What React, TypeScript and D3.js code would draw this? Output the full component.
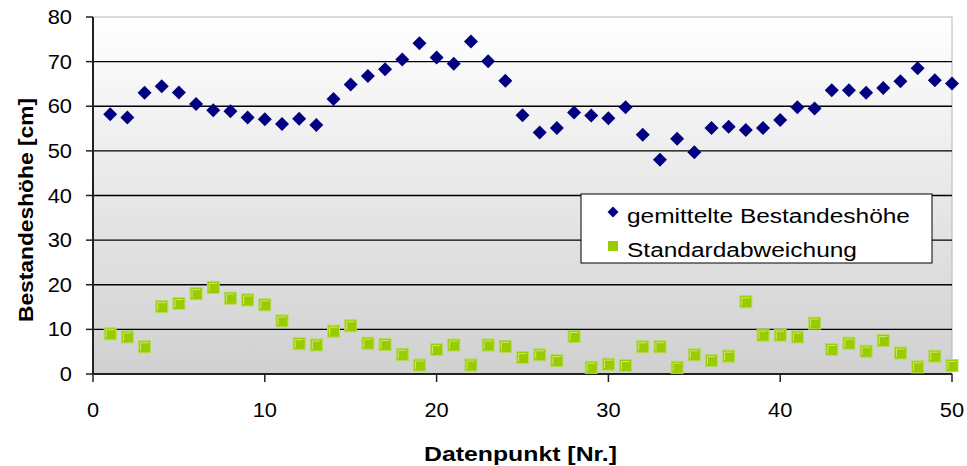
import React from "react";
import * as d3 from "d3";

// Datenpunkte 1..50
const points: number[] = d3.range(1, 51);
// gemittelte Bestandeshöhe [cm]
const heights: number[] = [
  58.2, 57.5, 63.0, 64.5, 63.1, 60.5, 59.1, 58.9, 57.5, 57.1,
  56.0, 57.2, 55.8, 61.6, 64.9, 66.8, 68.3, 70.5, 74.1, 70.9,
  69.5, 74.5, 70.1, 65.7, 58.0, 54.1, 55.1, 58.6, 57.9, 57.3,
  59.8, 53.6, 48.0, 52.7, 49.7, 55.1, 55.4, 54.7, 55.1, 56.9,
  59.8, 59.5, 63.6, 63.6, 63.0, 64.1, 65.6, 68.5, 65.8, 65.1,
];
// Standardabweichung [cm]
const stdDev: number[] = [
  9.0, 8.3, 6.1, 15.1, 15.8, 18.0, 19.4, 17.0, 16.6, 15.5,
  11.9, 6.8, 6.5, 9.6, 10.8, 6.9, 6.6, 4.4, 2.0, 5.5,
  6.5, 2.0, 6.5, 6.2, 3.7, 4.3, 3.0, 8.4, 1.5, 2.2,
  1.9, 6.1, 6.1, 1.5, 4.3, 3.0, 4.0, 16.2, 8.7, 8.7,
  8.3, 11.4, 5.5, 6.9, 5.1, 7.5, 4.7, 1.6, 4.0, 1.9,
];
const xTicks: number[] = [0, 10, 20, 30, 40, 50];
const yTicks: number[] = [0, 10, 20, 30, 40, 50, 60, 70, 80];
const seriesNames: string[] = ["gemittelte Bestandeshöhe", "Standardabweichung"];

const W = 967;
const H = 466;
const left = 93;
const right = 952;
const top = 17;
const bottom = 374;

const FONT = "Arial, 'Liberation Sans', Helvetica, sans-serif";
const NAVY = "#000080";
const GREEN = "#99cc00";

export default function App() {
  const x = d3.scaleLinear().domain([0, 50]).range([left, right]);
  const y = d3.scaleLinear().domain([0, 80]).range([bottom, top]);

  const diamond = (cx: number, cy: number, r: number) =>
    `M${cx},${cy - r}L${cx + r},${cy}L${cx},${cy + r}L${cx - r},${cy}Z`;

  const sq = 12;

  return (
    <svg
      width={W}
      height={H}
      style={{ position: "absolute", left: 0, top: 0, background: "#fff" }}
      fontFamily={FONT}
    >
      <defs>
        <linearGradient id="plotBg" x1="0" y1="0" x2="0" y2="1">
          <stop offset="0" stopColor="#ffffff" />
          <stop offset="1" stopColor="#d0d0d0" />
        </linearGradient>
      </defs>

      {/* plot area */}
      <rect x={left} y={top} width={right - left} height={bottom - top} fill="url(#plotBg)" stroke="#b8b8b8" strokeWidth={1} />

      {/* horizontal grid lines */}
      {yTicks.slice(1, -1).map((t) => (
        <line key={`g${t}`} x1={left} x2={right} y1={y(t)} y2={y(t)} stroke="#000" strokeWidth={1.3} />
      ))}

      {/* axes */}
      <line x1={left} x2={left} y1={top} y2={bottom} stroke="#222" strokeWidth={2} />
      <line x1={left} x2={right} y1={bottom} y2={bottom} stroke="#222" strokeWidth={2} />

      {/* y ticks and labels */}
      {yTicks.map((t) => (
        <g key={`yt${t}`}>
          <line x1={left - 7} x2={left} y1={y(t)} y2={y(t)} stroke="#222" strokeWidth={1.5} />
          <text
            transform={`translate(${left - 21},${y(t) + 7}) scale(1.12,1)`}
            textAnchor="end"
            fontSize={19.5}
            fill="#000"
          >
            {t}
          </text>
        </g>
      ))}

      {/* x ticks and labels */}
      {xTicks.map((t) => (
        <g key={`xt${t}`}>
          <line x1={x(t)} x2={x(t)} y1={bottom} y2={bottom + 8} stroke="#222" strokeWidth={1.5} />
          <text
            transform={`translate(${x(t)},${417}) scale(1.12,1)`}
            textAnchor="middle"
            fontSize={19.5}
            fill="#000"
          >
            {t}
          </text>
        </g>
      ))}

      {/* axis titles */}
      <text
        x={(left + right) / 2 - 2}
        y={461}
        textAnchor="middle"
        fontSize={20}
        fontWeight="bold"
        textLength={193}
        lengthAdjust="spacingAndGlyphs"
      >
        Datenpunkt [Nr.]
      </text>
      <text
        transform={`translate(33,${210}) rotate(-90)`}
        textAnchor="middle"
        fontSize={20}
        fontWeight="bold"
        textLength={224}
        lengthAdjust="spacingAndGlyphs"
      >
        Bestandeshöhe [cm]
      </text>

      {/* Standardabweichung */}
      {stdDev.map((v, i) => {
        const cx = x(points[i]);
        const cy = y(v);
        return (
          <g key={`s${i}`}>
            <rect x={cx - sq / 2} y={cy - sq / 2} width={sq} height={sq} fill={GREEN} stroke="#b8dc5a" strokeWidth={1} />
            <path
              d={`M${cx - sq / 2 + 2},${cy + sq / 2 - 2}V${cy - sq / 2 + 2}H${cx + sq / 2 - 2}`}
              fill="none"
              stroke="#d6ee9a"
              strokeWidth={0.8}
            />
          </g>
        );
      })}

      {/* gemittelte Bestandeshöhe */}
      {heights.map((v, i) => (
        <path key={`h${i}`} d={diamond(x(points[i]), y(v), 7)} fill={NAVY} />
      ))}

      {/* legend */}
      <rect x={581} y={194} width={351} height={69} fill="#fff" stroke="#000" strokeWidth={1} />
      <path d={diamond(613, 212, 5.5)} fill={NAVY} />
      <rect x={608} y={241} width={10} height={10} fill={GREEN} />
      <text x={627} y={223} fontSize={19.5} textLength={283} lengthAdjust="spacingAndGlyphs">
        {seriesNames[0]}
      </text>
      <text x={627} y={257} fontSize={19.5} textLength={230} lengthAdjust="spacingAndGlyphs">
        {seriesNames[1]}
      </text>
    </svg>
  );
}
